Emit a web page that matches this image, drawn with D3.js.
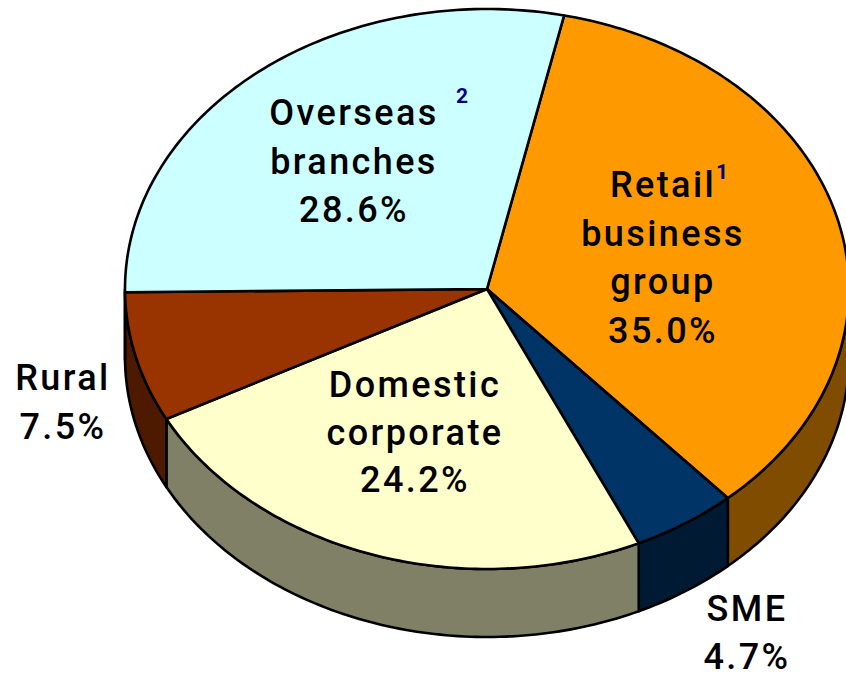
<!DOCTYPE html>
<html>
<head>
<meta charset="utf-8">
<script src="https://cdn.jsdelivr.net/npm/d3@7"></script>
<style>
  html, body { margin: 0; padding: 0; background: #fff; overflow: hidden; }
  text { font-family: Roboto, "Liberation Sans", sans-serif; font-weight: 500; fill: #000; }
</style>
</head>
<body>
<div id="chart"></div>
<script>
// values
const categories = ["Retail business group", "SME", "Domestic corporate", "Rural", "Overseas branches"];
const shares = [35.0, 4.7, 24.2, 7.5, 28.6];
const shareLabels = ["35.0%", "4.7%", "24.2%", "7.5%", "28.6%"];
const nameLines = [["Retail", "business", "group"], ["SME"], ["Domestic", "corporate"], ["Rural"], ["Overseas", "branches"]];
const footnotes = ["1", "", "", "", "2"];

const width = 846, height = 673;
const cx = 487, cy = 289, rx = 362, ry = 280, depth = 68;

const svg = d3.select("#chart")
  .append("svg")
    .attr("width", width)
    .attr("height", height)
    .style("display", "block");

const colour = d3.scaleOrdinal()
    .domain(categories)
    .range(["#ff9900", "#003366", "#ffffcc", "#993300", "#ccffff"]);
const wallColour = d3.scaleOrdinal()
    .domain(categories)
    .range(["#804d00", "#001a33", "#808066", "#4d1a00", "#668080"]);

// unit circle -> squashed top ellipse
const x = d3.scaleLinear().domain([-1, 1]).range([cx - rx, cx + rx]);
const y = d3.scaleLinear().domain([-1, 1]).range([cy - ry, cy + ry]);

// the first slice starts a little right of twelve o'clock
const startAngle = 12.3 * Math.PI / 180;
const pie = d3.pie().sort(null).startAngle(startAngle).endAngle(startAngle + 2 * Math.PI);
const slices = pie(shares).map((d, i) => ({ ...d, name: categories[i] }));

const line = d3.line();

function rim(a0, a1, dy) {
  const n = Math.max(2, Math.ceil((a1 - a0) * 60));
  return d3.range(n + 1).map(i => {
    const a = a0 + (a1 - a0) * i / n;
    return [x(Math.sin(a)), y(-Math.cos(a)) + dy];
  });
}

// walls first, only the front half of the rim can be seen
const front0 = Math.PI / 2, front1 = 3 * Math.PI / 2;
svg.append("g").selectAll("path")
  .data(slices.filter(d => d.endAngle > front0 && d.startAngle < front1))
  .join("path")
    .attr("d", d => {
      const a0 = Math.max(d.startAngle, front0), a1 = Math.min(d.endAngle, front1);
      return line(rim(a0, a1, 0).concat(rim(a0, a1, depth).reverse())) + "Z";
    })
    .attr("fill", d => wallColour(d.name))
    .attr("stroke", "#000")
    .attr("stroke-width", 2.6)
    .attr("stroke-linejoin", "round");

// top face
svg.append("g").selectAll("path")
  .data(slices)
  .join("path")
    .attr("d", d => line([[x(0), y(0)]].concat(rim(d.startAngle, d.endAngle, 0))) + "Z")
    .attr("fill", d => colour(d.name))
    .attr("stroke", "#000")
    .attr("stroke-width", 2.6)
    .attr("stroke-linejoin", "round");

// labels, one block per slice: centre x and baseline of the first line
const labelPos = [
  { x: 663, y: 197, step: 48.5 },
  { x: 747, y: 621, step: 48 },
  { x: 415, y: 397, step: 47.5 },
  { x: 63, y: 390, step: 49 },
  { x: 354, y: 125, step: 48.5 }
];
const supPos = [{ x: 722, y: 179 }, null, null, null, { x: 462, y: 103 }];

categories.forEach((c, i) => {
  const p = labelPos[i];
  nameLines[i].concat(shareLabels[i]).forEach((t, j) => {
    svg.append("text")
      .attr("x", p.x)
      .attr("y", p.y + j * p.step)
      .attr("text-anchor", "middle")
      .style("font-size", "36px")
      .style("letter-spacing", "2.4px")
      .text(t);
  });
  if (footnotes[i]) {
    svg.append("text")
      .attr("x", supPos[i].x)
      .attr("y", supPos[i].y)
      .attr("text-anchor", "middle")
      .style("font-size", "21px")
      .style("font-weight", 700)
      .style("fill", "#000080")
      .text(footnotes[i]);
  }
});
</script>
</body>
</html>
